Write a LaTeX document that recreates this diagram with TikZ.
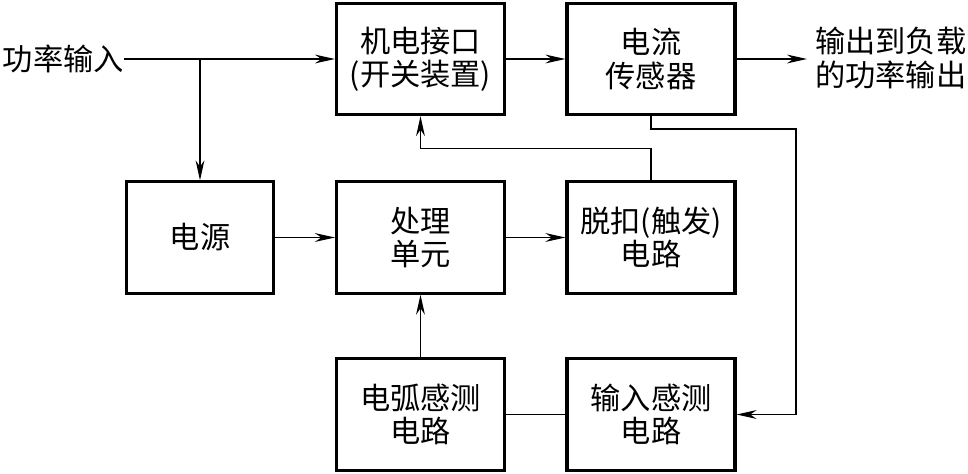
\documentclass[tikz,border=0pt]{standalone}
\usepackage{fontspec}
\setmainfont{Noto Sans CJK SC}
\usetikzlibrary{arrows.meta}

\begin{document}
\begin{tikzpicture}[x=0.025cm, y=-0.025cm, >={Stealth[length=5mm, width=2.2mm, inset=1.6mm]},
  kuai/.style={draw, line width=2.2pt, minimum width=4.2cm, minimum height=2.78cm,
    align=center, inner sep=0pt, font=\fontsize{21.5}{23.5}\selectfont},
  xian/.style={line width=0.9pt},
  wenzi/.style={inner sep=0pt, align=left, font=\fontsize{21.5}{23.5}\selectfont}]
  \useasboundingbox (0,0) rectangle (968,474);

  % Kuai: hang 1
  \node[kuai] (jidian) at (420.5,59) {机电接口\\(开关装置)};
  \node[kuai] (dianliu) at (651,59) {电流\\传感器};

  % Kuai: hang 2
  \node[kuai, minimum width=3.675cm] (dianyuan) at (200,237.5) {电源};
  \node[kuai] (chuli) at (420.5,237.5) {处理\\单元};
  \node[kuai] (tuokou) at (651,237.5) {脱扣(触发)\\电路};

  % Kuai: hang 3
  \node[kuai] (dianhu) at (420.5,414.5) {电弧感测\\电路};
  \node[kuai] (shuru) at (651,414.5) {输入感测\\电路};

  % Shuru / shuchu wenzi
  \node[wenzi, anchor=east] (gonglv) at (124,59) {功率输入};
  \node[wenzi, anchor=west, inner xsep=0.2cm] (shuchu) at (807,58) {输出到负载\\的功率输出};

  % Lianxian
  \draw[xian, ->] (gonglv.east) -- (jidian.west);
  \draw[xian, ->] (dianyuan.north |- gonglv.east) -- (dianyuan.north);
  \draw[xian, ->] (jidian.east) -- (dianliu.west);
  \draw[xian, ->] (dianliu.east) -- (shuchu.west |- dianliu.east);
  \draw[xian, ->] (dianyuan.east) -- (chuli.west);
  \draw[xian, ->] (chuli.east) -- (tuokou.west);
  \draw[xian, ->] (tuokou.north) -- ++(0,-32) -| (jidian.south);
  \coordinate (youshang) at (796,129);
  \draw[xian, ->] (dianliu.south) |- (youshang) |- (shuru.east);
  \draw[xian] (shuru.west) -- (dianhu.east);
  \draw[xian, ->] (dianhu.north) -- (chuli.south);
\end{tikzpicture}
\end{document}
